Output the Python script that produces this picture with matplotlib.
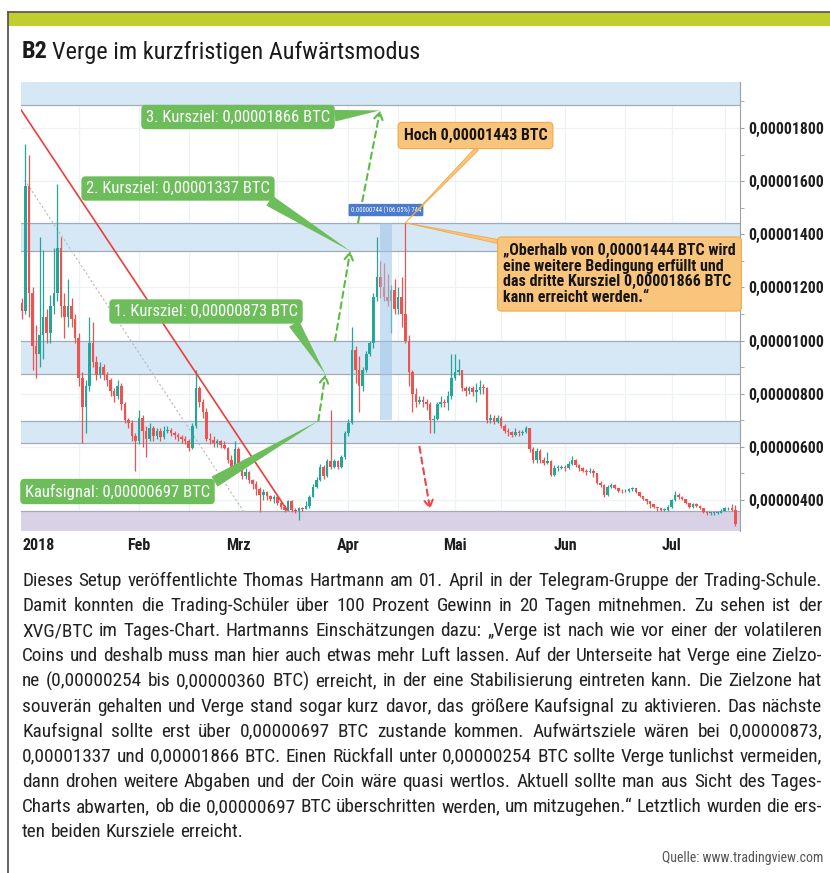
import numpy as np
import pandas as pd
import matplotlib
matplotlib.use("Agg")
import matplotlib.pyplot as plt
from matplotlib import font_manager as fm
from matplotlib.patches import Rectangle
from matplotlib.ticker import FixedLocator, FuncFormatter

# ---------------------------------------------------------------- data
# XVG/BTC daily candles, prices in satoshi (1 sat = 0,00000001 BTC)
start_day = "2017-12-30"
first_open = 1140

close = [
    1110, 1580, 1180,                                               # Dez
    980, 950, 1020, 1090, 1030, 1130, 1180, 1350, 1130, 1090,       # Jan
    1130, 1080, 1010, 860, 750, 830, 990, 920, 870, 900,
    870, 850, 810, 790, 830, 760, 700, 690, 640, 620, 710,
    660, 630, 670, 640, 660, 635, 660, 665, 650, 645,               # Feb
    635, 630, 620, 595, 680, 820, 770, 730, 630, 625,
    615, 620, 605, 595, 550, 525, 590, 540,
    490, 505, 475, 460, 440, 420, 430, 415, 405, 410,               # Mrz
    390, 375, 362, 395, 362, 358, 368, 366, 378, 412,
    450, 475, 525, 490, 545, 525, 545, 525, 560, 650, 690,
    965, 890, 830, 890, 950, 990, 1165, 1240, 1200, 1165,           # Apr
    1150, 1190, 1120, 1165, 1100, 1000, 880, 800, 770, 775,
    770, 760, 700, 705, 760, 770, 765, 790, 860, 880,
    890, 820, 810, 820, 805, 815, 825, 820, 700, 710,               # Mai
    695, 710, 680, 660, 655, 645, 655, 650, 655, 670,
    590, 550, 585, 550, 540, 545, 495, 520, 520, 525, 520,
    535, 550, 530, 520, 510, 505, 510, 500, 465, 458,               # Jun
    420, 450, 455, 445, 435, 432, 433, 442, 445, 430,
    415, 405, 395, 385, 375, 368, 362, 362, 375, 400,
    420, 412, 405, 390, 372, 385, 378, 370, 355, 350,               # Jul
    350, 350, 352, 360, 368, 370, 362, 310,
]
high = [
    1160, 1740, 1700,
    1200, 1060, 1390, 1340, 1120, 1170, 1350, 1590, 1390, 1180,
    1230, 1160, 1100, 1030, 880, 850, 1090, 1070, 940, 920,
    910, 880, 860, 820, 850, 840, 770, 710, 700, 650, 740,
    720, 680, 690, 680, 670, 670, 680, 680, 670, 660,
    650, 645, 640, 630, 690, 890, 830, 780, 745, 650,
    640, 630, 625, 620, 600, 570, 620, 600,
    545, 520, 510, 480, 470, 450, 440, 435, 420, 420,
    415, 395, 380, 400, 398, 370, 372, 375, 396, 420,
    460, 485, 535, 530, 555, 740, 555, 550, 570, 660, 705,
    1050, 980, 940, 900, 960, 1000, 1180, 1390, 1300, 1290,
    1250, 1210, 1230, 1200, 1240, 1443, 1020, 890, 820, 790,
    790, 780, 770, 720, 770, 790, 780, 810, 950, 950,
    930, 890, 830, 830, 830, 840, 850, 835, 825, 725,
    720, 720, 715, 685, 670, 660, 670, 665, 665, 680,
    670, 600, 595, 590, 560, 580, 550, 530, 530, 530, 530,
    545, 565, 555, 535, 525, 515, 520, 515, 500, 470,
    460, 455, 465, 460, 445, 440, 440, 445, 450, 445,
    430, 415, 405, 395, 385, 375, 370, 368, 380, 405,
    435, 425, 415, 405, 390, 390, 388, 380, 370, 358,
    355, 355, 357, 365, 372, 375, 385, 380,
]
low = [
    1080, 1100, 1090,
    890, 860, 900, 930, 990, 990, 1100, 1150, 1090, 1010,
    1050, 1050, 990, 830, 615, 650, 810, 900, 850, 860,
    850, 830, 790, 770, 780, 740, 690, 670, 620, 507, 610,
    600, 560, 620, 620, 630, 620, 630, 650, 640, 630,
    620, 615, 610, 585, 590, 670, 750, 710, 620, 610,
    600, 600, 595, 590, 540, 515, 520, 530,
    480, 480, 465, 440, 420, 356, 400, 400, 395, 390,
    380, 365, 355, 360, 355, 350, 325, 358, 370, 370,
    410, 445, 470, 480, 485, 515, 520, 515, 520, 555, 640,
    685, 840, 730, 810, 880, 940, 970, 1150, 1160, 1150,
    1130, 1030, 1100, 1100, 1050, 990, 830, 730, 750, 760,
    750, 740, 650, 650, 700, 750, 750, 740, 780, 850,
    870, 810, 790, 800, 790, 770, 800, 800, 690, 690,
    685, 690, 670, 650, 640, 635, 640, 640, 645, 650,
    580, 540, 540, 540, 530, 535, 490, 490, 510, 515, 510,
    515, 530, 525, 510, 505, 495, 500, 485, 460, 450,
    410, 415, 445, 440, 430, 425, 428, 430, 435, 425,
    410, 400, 385, 370, 370, 360, 358, 358, 360, 370,
    395, 405, 398, 385, 368, 370, 372, 365, 350, 345,
    344, 344, 346, 350, 358, 362, 358, 300,
]

# zones drawn in the chart (satoshi)
blue_zones = [(1887, 2100), (1337, 1444), (873, 1000), (615, 697)]
target_zone = (254, 360)

# analyst drawings
trend_dates = ["2017-12-29 18:00", "2018-03-14 17:00"]
trend_vals = [1868, 362]
channel_dates = ["2017-12-30 19:00", "2018-03-02 19:00"]
channel_vals = [1604, 350]
path_dates = [("2018-03-23 12:00", "2018-03-25 12:00"),
              ("2018-03-28 05:00", "2018-04-01 12:00"),
              ("2018-04-03 17:00", "2018-04-09 22:00")]
path_vals = [(697, 873), (1000, 1337), (1444, 1866)]
drop_dates = ["2018-04-21 00:00", "2018-04-24 00:00"]
drop_vals = [600, 365]
measure_dates = ["2018-04-09 22:00", "2018-04-13 05:00"]
measure_vals = [700, 1444]
high_date, high_val = "2018-04-17", 1443

month_ticks = ["2018-02-01", "2018-03-01", "2018-04-01", "2018-05-01",
               "2018-06-01", "2018-07-01"]
month_labels = ["Feb", "Mrz", "Apr", "Mai", "Jun", "Jul"]
y_ticks = [400, 600, 800, 1000, 1200, 1400, 1600, 1800]

body_lines = [
    "Dieses Setup veröffentlichte Thomas Hartmann am 01. April in der Telegram-Gruppe der Trading-Schule.",
    "Damit konnten die Trading-Schüler über 100 Prozent Gewinn in 20 Tagen mitnehmen. Zu sehen ist der",
    "XVG/BTC im Tages-Chart. Hartmanns Einschätzungen dazu: „Verge ist nach wie vor einer der volatileren",
    "Coins und deshalb muss man hier auch etwas mehr Luft lassen. Auf der Unterseite hat Verge eine Zielzo-",
    "ne (0,00000254 bis 0,00000360 BTC) erreicht, in der eine Stabilisierung eintreten kann. Die Zielzone hat",
    "souverän gehalten und Verge stand sogar kurz davor, das größere Kaufsignal zu aktivieren. Das nächste",
    "Kaufsignal sollte erst über 0,00000697 BTC zustande kommen. Aufwärtsziele wären bei 0,00000873,",
    "0,00001337 und 0,00001866 BTC. Einen Rückfall unter 0,00000254 BTC sollte Verge tunlichst vermeiden,",
    "dann drohen weitere Abgaben und der Coin wäre quasi wertlos. Aktuell sollte man aus Sicht des Tages-",
    "Charts abwarten, ob die 0,00000697 BTC überschritten werden, um mitzugehen.“ Letztlich wurden die ers-",
    "ten beiden Kursziele erreicht.",
]

# ---------------------------------------------------------------- fonts
avail = {f.name for f in fm.fontManager.ttflist}
FAMILY, STRETCH = "DejaVu Sans", "normal"
for name in ("Roboto Condensed", "Liberation Sans Narrow", "Open Sans Condensed"):
    if name in avail:
        FAMILY = name
        break
else:
    if any(f.name == "DejaVu Sans" and f.stretch == "condensed" for f in fm.fontManager.ttflist):
        STRETCH = "condensed"
    elif "Liberation Sans" in avail:
        FAMILY = "Liberation Sans"
plt.rcParams["font.family"] = [FAMILY, "DejaVu Sans"]
plt.rcParams["font.stretch"] = STRETCH

UP, DOWN = "#26a69a", "#ef5350"
GREEN, ORANGE, ORANGE_EDGE = "#6dbd5b", "#f9c57c", "#f3a848"
ZONE, ZONE_EDGE, PURPLE = "#d6e7f5", "#a3acb6", "#d9d1e6"

W, H, DPI = 830, 873, 100
fig = plt.figure(figsize=(W / DPI, H / DPI), dpi=DPI, facecolor="white")
r = fig.canvas.get_renderer()

# page frame, title, article text (pixel coordinates)
bg = fig.add_axes([0, 0, 1, 1], zorder=0)
bg.set_xlim(0, W)
bg.set_ylim(H, 0)
bg.axis("off")
bg.add_patch(Rectangle((8, 12), W - 8, 14, fc="#c0cf2e", ec="none"))
bg.plot([8, W], [11.6, 11.6], color="#5e5e52", lw=1.3)
bg.plot([8, 8], [11.6, H], color="#555555", lw=1.3)

t1 = bg.text(22, 52, "B2", fontsize=17.5, fontweight="bold", va="center", color="#1b1b1b")
w1 = t1.get_window_extent(r).width
bg.text(22 + w1 + 4, 52, "Verge im kurzfristigen Aufwärtsmodus", fontsize=17.5,
        va="center", color="#1b1b1b")

# justified article text, size chosen so the fullest line just fits
x0, x1 = 22, 822
fs = 13.0
space = lambda size: 0.24 * size * DPI / 72
probe = [[bg.text(0, 0, w, fontsize=fs) for w in line.split(" ")] for line in body_lines]
need = max(sum(a.get_window_extent(r).width for a in ws) + space(fs) * (len(ws) - 1)
           for ws in probe[:-1])
for ws in probe:
    for a in ws:
        a.remove()
fs = fs * (x1 - x0) / need
for i, line in enumerate(body_lines):
    y = 581 + 25.1 * i
    words = [bg.text(0, y, w, fontsize=fs, va="center", color="#222222")
             for w in line.split(" ")]
    widths = [a.get_window_extent(r).width for a in words]
    if i == len(body_lines) - 1:
        gap = space(fs)
    else:
        gap = (x1 - x0 - sum(widths)) / (len(words) - 1)
    x = x0
    for a, w in zip(words, widths):
        a.set_x(x)
        x += w + gap
bg.text(823, 858, "Quelle: www.tradingview.com", fontsize=10, ha="right",
        va="center", color="#555555")

# ---------------------------------------------------------------- chart
AX_L, AX_R, AX_T, AX_B = 21, 740, 82, 531
ax = fig.add_axes([AX_L / W, 1 - AX_B / H, (AX_R - AX_L) / W, (AX_B - AX_T) / H], zorder=1)
ax.set_facecolor("white")

dates = pd.date_range(start_day, periods=len(close), freq="D")
close_a = np.array(close, float)
open_a = np.concatenate([[first_open], close_a[:-1]])
high_a = np.maximum(np.array(high, float), np.maximum(open_a, close_a))
low_a = np.minimum(np.array(low, float), np.minimum(open_a, close_a))
up = close_a >= open_a
cols = np.where(up, UP, DOWN)

ax.set_xlim(pd.Timestamp("2017-12-29 18:00"), pd.Timestamp("2018-07-20 07:00"))
ax.set_ylim(283, 1973)

# grid
for d in month_ticks + ["2018-01-15", "2018-02-15", "2018-03-12", "2018-04-15",
                        "2018-05-14", "2018-06-18", "2018-07-16"]:
    ax.axvline(pd.Timestamp(d), color="#eef2f6", lw=0.9, zorder=0)
for v in y_ticks:
    ax.axhline(v, color="#eef2f6", lw=0.9, zorder=0)

# zones
for lo, hi in blue_zones:
    ax.axhspan(lo, hi, fc=ZONE, ec="none", zorder=1)
    ax.axhline(lo, color=ZONE_EDGE, lw=0.9, zorder=1.5)
    if hi < 1973:
        ax.axhline(hi, color=ZONE_EDGE, lw=0.9, zorder=1.5)
ax.axhspan(target_zone[0], target_zone[1], fc=PURPLE, ec="none", zorder=1)
ax.axhline(target_zone[1], color=ZONE_EDGE, lw=0.9, zorder=1.5)

# candles
ax.vlines(dates, low_a, high_a, colors=cols, lw=0.9, zorder=3)
body = np.maximum(np.abs(close_a - open_a), 3)
ax.bar(dates, body, bottom=np.minimum(open_a, close_a), width=0.72, color=cols,
       lw=0, zorder=4)

# measuring band
md = pd.to_datetime(measure_dates)
ax.fill_between(md, measure_vals[0], measure_vals[1], color="#9cc3e8", alpha=0.55,
                lw=0, zorder=5)
ax.annotate("0.00000744 (106.05%) 744", xy=(md[0] + (md[1] - md[0]) / 2, measure_vals[1]),
            xytext=(0, 9), textcoords="offset points", ha="center", va="center",
            fontsize=4.8, color="white", zorder=9,
            bbox=dict(boxstyle="round,pad=0.35,rounding_size=0.2", fc="#4a7bcc", ec="none"))

# trend lines
ax.plot(pd.to_datetime(trend_dates), trend_vals, color="#f03c3c", lw=1.2, zorder=6)
ax.plot(pd.to_datetime(channel_dates), channel_vals, color="#b8b8b8", lw=0.8,
        ls=(0, (2, 2)), zorder=2)

# projected path
for (da, db), (va, vb) in zip(path_dates, path_vals):
    ax.annotate("", xy=(pd.Timestamp(db), vb), xytext=(pd.Timestamp(da), va), zorder=7,
                arrowprops=dict(arrowstyle="->,head_length=0.5,head_width=0.3",
                                color="#5cbd43", lw=1.5, ls=(0, (3, 2.2)),
                                shrinkA=0, shrinkB=0))
ax.annotate("", xy=(pd.Timestamp(drop_dates[1]), drop_vals[1]),
            xytext=(pd.Timestamp(drop_dates[0]), drop_vals[0]), zorder=7,
            arrowprops=dict(arrowstyle="->,head_length=0.5,head_width=0.3",
                            color="#f0454a", lw=1.5, ls=(0, (3, 2.2)),
                            shrinkA=0, shrinkB=0))

# callouts
green_calls = [
    ("3. Kursziel: 0,00001866 BTC", (238, 117), 2, (1.0, 0.55)),
    ("2. Kursziel: 0,00001337 BTC", (178, 188.5), 1, (0.95, 0.05)),
    ("1. Kursziel: 0,00000873 BTC", (206, 311.5), 0, (0.96, 0.05)),
]
for text, (cx, cy), k, rel in green_calls:
    ax.annotate(text, xy=(pd.Timestamp(path_dates[k][1]), path_vals[k][1]),
                xytext=(cx, H - cy), textcoords="figure pixels", ha="center", va="center",
                fontsize=12, color="white", zorder=10,
                bbox=dict(boxstyle="round,pad=0.28,rounding_size=0.25", fc=GREEN, ec="none"),
                arrowprops=dict(arrowstyle="wedge,tail_width=0.7,shrink_factor=0.5",
                                fc=GREEN, ec="none", relpos=rel, shrinkA=0, shrinkB=0))
ax.annotate("Kaufsignal: 0,00000697 BTC",
            xy=(pd.Timestamp(path_dates[0][0]), path_vals[0][0]),
            xytext=(117.5, H - 491.5), textcoords="figure pixels", ha="center", va="center",
            fontsize=12, color="white", zorder=10,
            bbox=dict(boxstyle="round,pad=0.28,rounding_size=0.25", fc=GREEN, ec="none"),
            arrowprops=dict(arrowstyle="wedge,tail_width=0.7,shrink_factor=0.5",
                            fc=GREEN, ec="none", relpos=(0.97, 0.75), shrinkA=0, shrinkB=0))

orange_calls = [
    ("Hoch 0,00001443 BTC", (475.5, 135.5), (0.55, 0.0)),
    ("„Oberhalb von 0,00001444 BTC wird\neine weitere Bedingung erfüllt und\n"
     "das dritte Kursziel 0,00001866 BTC\nkann erreicht werden.“", (619.5, 274), (0.0, 1.0)),
]
for text, (cx, cy), rel in orange_calls:
    ax.annotate(text, xy=(pd.Timestamp(high_date), high_val),
                xytext=(cx, H - cy), textcoords="figure pixels", ha="center", va="center",
                multialignment="left", linespacing=1.08,
                fontsize=11.5, fontweight="bold", color="#151515", zorder=10,
                bbox=dict(boxstyle="round,pad=0.35,rounding_size=0.25", fc=ORANGE,
                          ec=ORANGE_EDGE, lw=0.8),
                arrowprops=dict(arrowstyle="wedge,tail_width=0.25,shrink_factor=0.5",
                                fc=ORANGE, ec=ORANGE_EDGE, lw=0.6, relpos=rel,
                                shrinkA=0, shrinkB=0))

# axes styling
for s in ("top", "left", "bottom"):
    ax.spines[s].set_visible(False)
ax.spines["right"].set_color("#9aa1a8")
ax.yaxis.tick_right()
ax.yaxis.set_major_locator(FixedLocator(y_ticks))
ax.yaxis.set_minor_locator(FixedLocator([v + 100 for v in y_ticks]))
ax.yaxis.set_major_formatter(FuncFormatter(lambda v, p: f"{v / 1e8:.8f}".replace(".", ",")))
ax.tick_params(axis="y", which="both", length=3, color="#9aa1a8", pad=3,
               labelsize=11.3, labelcolor="#1e1e1e")
for lab in ax.get_yticklabels():
    lab.set_fontweight("bold")
ax.set_xticks(pd.to_datetime(month_ticks))
ax.set_xticklabels(month_labels, fontsize=11.5, fontweight="bold", color="#1e1e1e")
ax.tick_params(axis="x", length=0, pad=5)
ax.annotate("2018", xy=(0, 0), xycoords="axes fraction", xytext=(1, -5),
            textcoords="offset points", ha="left", va="top", fontsize=11.5,
            fontweight="bold", color="#1e1e1e")

fig.savefig("out.png", dpi=DPI, facecolor="white")
